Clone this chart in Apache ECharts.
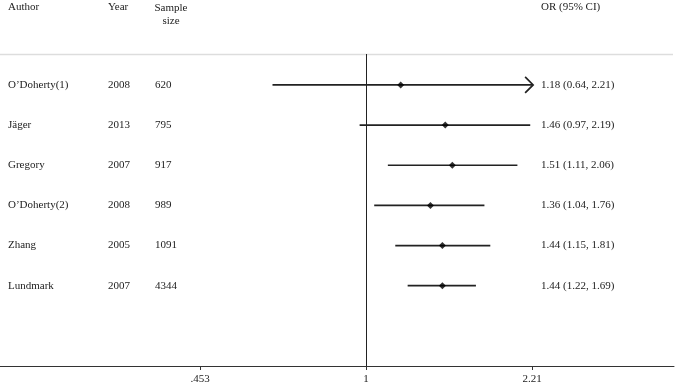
<!DOCTYPE html>
<html>
<head>
<meta charset="utf-8">
<script src="https://cdn.jsdelivr.net/npm/echarts@6/dist/echarts.min.js"></script>
<style>
  html, body { margin: 0; padding: 0; background: #fff; }
  #chart { width: 675px; height: 385px; }
</style>
</head>
<body>
<div id="chart"></div>
<script>
// study data
const authors = ["O\u2019Doherty(1)", "J\u00e4ger", "Gregory", "O\u2019Doherty(2)", "Zhang", "Lundmark"];
const years = ["2008", "2013", "2007", "2008", "2005", "2007"];
const sampleSizes = ["620", "795", "917", "989", "1091", "4344"];
const orValues = [1.18, 1.46, 1.51, 1.36, 1.44, 1.44];
const ciLower = [0.64, 0.97, 1.11, 1.04, 1.15, 1.22];
const ciUpper = [2.21, 2.19, 2.06, 1.76, 1.81, 1.69];
const ciLabels = ["1.18 (0.64, 2.21)", "1.46 (0.97, 2.19)", "1.51 (1.11, 2.06)",
                  "1.36 (1.04, 1.76)", "1.44 (1.15, 1.81)", "1.44 (1.22, 1.69)"];

// axis ticks
const tickValues = [0.453, 1, 2.21];
const tickLabels = [".453", "1", "2.21"];
const clipMax = 2.21;

const FONT = "'Liberation Serif', 'Times New Roman', serif";
const INK = '#222';

const rows = authors.map((a, i) => i + 1);

const chart = echarts.init(document.getElementById('chart'), null, { renderer: 'canvas' });

const option = {
  animation: false,
  backgroundColor: '#fff',
  grid: { left: 0, right: 1, top: 54, bottom: 19, containLabel: false },
  xAxis: {
    type: 'log',
    logBase: Math.E,
    min: 0.1743,
    max: 4.35,
    axisLine: { show: true, lineStyle: { color: '#333', width: 1 } },
    axisTick: { show: true, length: 4, customValues: tickValues, lineStyle: { color: '#333' } },
    axisLabel: {
      customValues: tickValues,
      formatter: v => {
        const i = tickValues.findIndex(t => Math.abs(t - v) < 1e-6);
        return i >= 0 ? tickLabels[i] : '';
      },
      fontFamily: FONT, fontSize: 11, color: INK, margin: 8
    },
    splitLine: { show: false }
  },
  yAxis: {
    type: 'value',
    inverse: true,
    min: 0.23,
    max: 8,
    show: false
  },
  graphic: [
    {
      type: 'line', shape: { x1: 0, y1: 54.5, x2: 673, y2: 54.5 },
      style: { stroke: '#ddd', lineWidth: 1.5 }, z: 1
    },
    { type: 'text', left: 8, top: 2, style: { text: 'Author', font: `11px ${FONT}`, fill: INK } },
    { type: 'text', left: 108, top: 2, style: { text: 'Year', font: `11px ${FONT}`, fill: INK } },
    { type: 'text', x: 171, y: 2, style: { text: 'Sample\nsize', font: `11px ${FONT}`, fill: INK, align: 'center', lineHeight: 13 } },
    { type: 'text', left: 541, top: 2, style: { text: 'OR (95% CI)', font: `11px ${FONT}`, fill: INK } }
  ],
  series: [
    {
      // null line at OR = 1
      type: 'line',
      data: [],
      markLine: {
        silent: true,
        symbol: ['none', 'none'],
        label: { show: false },
        lineStyle: { color: INK, width: 1, type: 'solid' },
        data: [{ xAxis: 1 }]
      }
    },
    {
      // confidence intervals
      type: 'custom',
      data: rows.map((r, i) => [ciLower[i], Math.min(ciUpper[i], clipMax), r, ciUpper[i] >= clipMax ? 1 : 0]),
      renderItem: (params, api) => {
        const p1 = api.coord([api.value(0), api.value(2)]);
        const p2 = api.coord([api.value(1), api.value(2)]);
        const children = [{
          type: 'line',
          shape: { x1: p1[0], y1: p1[1], x2: p2[0], y2: p2[1] },
          style: { stroke: INK, lineWidth: 1.7 }
        }];
        if (api.value(3)) {
          children.push({
            type: 'polyline',
            shape: { points: [[p2[0] - 7, p2[1] - 8], [p2[0] + 1, p2[1]], [p2[0] - 7, p2[1] + 8]] },
            style: { stroke: INK, lineWidth: 1.7, fill: 'none' }
          });
        }
        return { type: 'group', children };
      },
      z: 3
    },
    {
      // point estimates
      type: 'scatter',
      symbol: 'diamond',
      symbolSize: 7,
      itemStyle: { color: '#000' },
      data: rows.map((r, i) => [orValues[i], r]),
      z: 4
    },
    {
      // table text
      type: 'custom',
      data: rows.map((r, i) => [1, r, i]),
      renderItem: (params, api) => {
        const y = api.coord([1, api.value(1)])[1];
        const i = api.value(2);
        const t = (x, s) => ({
          type: 'text', x, y,
          style: { text: s, font: `11px ${FONT}`, fill: INK, verticalAlign: 'middle', align: 'left' }
        });
        return {
          type: 'group',
          children: [t(8, authors[i]), t(108, years[i]), t(155, sampleSizes[i]), t(541, ciLabels[i])]
        };
      },
      clip: false,
      z: 5
    }
  ]
};

chart.setOption(option);
</script>
</body>
</html>
